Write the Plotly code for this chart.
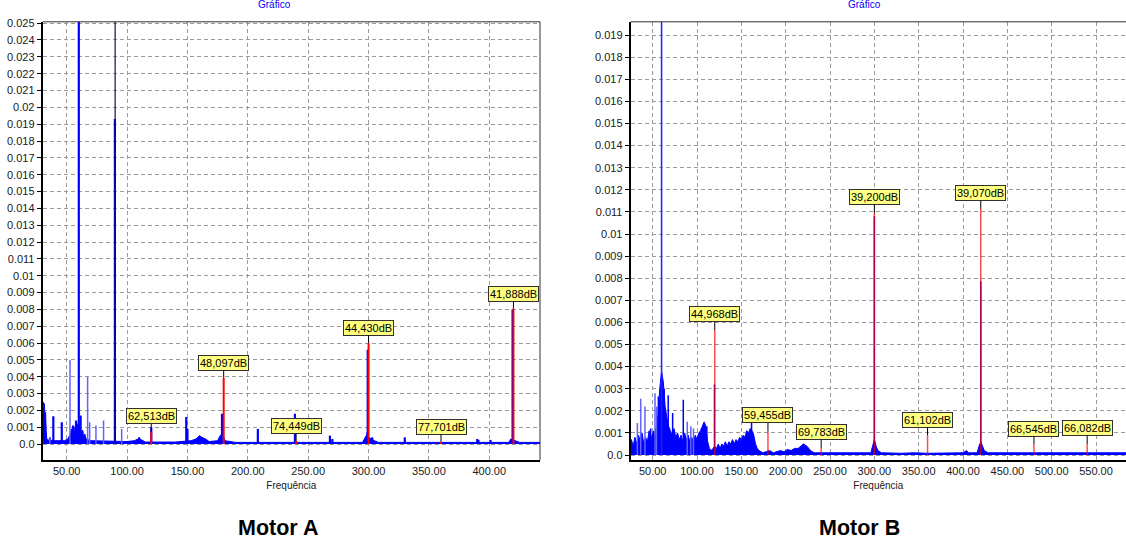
import plotly.graph_objects as go

# ---------------- Motor A ----------------
# broadband floor of the spectrum (Hz, amplitude)
floor_a_freq = [30.1, 30.5, 31.0, 31.5, 32.0, 32.5, 33.0, 33.5, 35.0, 36.0, 37.0, 42.0, 48.0,
                51.0, 53.0, 54.0, 55.0, 56.0, 57.0, 58.0, 59.0, 61.0, 62.0, 63.0, 64.0, 65.0,
                66.0, 70.0, 85.0, 100.0, 106.0, 109.0, 112.0, 115.0, 140.0, 153.0, 157.0,
                160.0, 162.0, 165.0, 168.0, 175.0, 177.0, 179.0, 181.0, 190.0, 295.0, 298.0,
                300.0, 302.0, 305.0, 308.0, 416.0, 418.0, 422.0, 425.0, 442.0]
floor_a_level = [0.0023, 0.0025, 0.0021, 0.0024, 0.0016, 0.0019, 0.0008, 0.0003, 0.0002, 0.0004,
                 0.0002, 0.0002, 0.0002, 0.0003, 0.0006, 0.0009, 0.0004, 0.0010, 0.0005, 0.0009,
                 0.0012, 0.0011, 0.0006, 0.0008, 0.0004, 0.0006, 0.0003, 0.0002, 0.00018,
                 0.00015, 0.0002, 0.0003, 0.00025, 0.00012, 0.00012, 0.0002, 0.0003, 0.0005,
                 0.0004, 0.0003, 0.00015, 0.0002, 0.0005, 0.0006, 0.0002, 0.0001, 0.0001,
                 0.0005, 0.0004, 0.0003, 0.0002, 0.0001, 0.0001, 0.0003, 0.0002, 0.0001, 0.0001]

# discrete spectral lines
peaks_a_freq = [38.9, 45.9, 55.3, 57.7, 60.0, 61.5, 63.0, 89.9, 110.0, 120.0, 149.0, 150.0,
                178.6, 208.3, 239.0, 268.0, 270.0, 299.0, 299.3, 303.0, 330.0, 390.0, 391.0,
                401.0, 418.0, 419.3]
peaks_a_amp = [0.00165, 0.0013, 0.0011, 0.0014, 0.0300, 0.0017, 0.0008, 0.0193, 0.0004, 0.0010,
               0.0016, 0.0009, 0.0018, 0.0009, 0.0018, 0.0005, 0.0003, 0.0007, 0.0056, 0.0004,
               0.0004, 0.0003, 0.00025, 0.00025, 0.0003, 0.0080]
faint_a_freq = [36.0, 52.7, 67.3, 69.0, 74.2, 80.5, 95.5]
faint_a_amp = [0.0004, 0.0050, 0.0040, 0.0013, 0.0011, 0.0014, 0.0009]
thin_a_freq = [90.1]
thin_a_amp = [0.0300]

# harmonic cursors (Hz, dB)
mark_a_freq = [120, 180, 240, 300, 360, 420]
mark_a_db = [62.513, 48.097, 74.449, 44.430, 77.701, 41.888]

# ---------------- Motor B ----------------
floor_b_freq = [25.2, 26, 28, 30, 32, 34, 36, 38, 40, 42, 44, 46, 48, 50, 52, 54, 56, 58, 60, 62,
                64, 66, 68, 70, 72, 74, 76, 78, 80, 82, 84, 86, 88, 90, 92, 94, 96, 98, 100,
                102, 104, 106, 108, 110, 112, 114, 116, 118, 120, 122, 124, 126, 128, 130, 132,
                134, 136, 138, 140, 142, 144, 146, 148, 150, 152, 154, 156, 158, 160, 162, 164,
                166, 168, 170, 174, 178, 182, 186, 190, 194, 198, 202, 206, 210, 214, 218, 220,
                222, 224, 226, 228, 232, 240, 260, 296, 298, 300, 302, 304, 308, 330, 345, 360,
                400, 404, 406, 416, 418, 420, 422, 424, 428, 480, 540, 584]
floor_b_level = [0.0006, 0.0007, 0.0004, 0.0008, 0.0005, 0.0009, 0.0006, 0.0010, 0.0005, 0.0008,
                 0.0006, 0.0011, 0.0007, 0.0010, 0.0008, 0.0013, 0.0018, 0.0030, 0.0038, 0.0033,
                 0.0022, 0.0017, 0.0013, 0.0011, 0.0009, 0.0012, 0.0008, 0.0010, 0.0007, 0.0009,
                 0.0006, 0.0010, 0.0007, 0.0009, 0.0006, 0.0008, 0.0006, 0.0009, 0.0007, 0.0010,
                 0.0011, 0.0013, 0.0015, 0.0013, 0.0006, 0.0003, 0.0002, 0.0003, 0.0004, 0.0003,
                 0.0005, 0.0003, 0.0005, 0.0004, 0.0006, 0.0004, 0.0006, 0.0005, 0.0007, 0.0005,
                 0.0007, 0.0006, 0.0008, 0.0007, 0.0009, 0.0008, 0.0011, 0.0010, 0.0012, 0.0011,
                 0.0009, 0.0005, 0.0003, 0.0002, 0.0001, 0.00015, 0.0002, 0.0001, 0.00015, 0.0002,
                 0.00015, 0.00025, 0.0002, 0.0003, 0.0003, 0.00045, 0.0005, 0.00045, 0.0004,
                 0.0003, 0.0002, 0.0001, 0.0001, 0.00008, 0.0001, 0.0004, 0.0007, 0.0004, 0.0002,
                 0.0001, 0.00008, 0.0001, 0.00008, 0.0001, 0.0002, 0.0001, 0.0001, 0.0004, 0.0006,
                 0.0004, 0.0002, 0.0001, 0.0001, 0.0001, 0.0001]

peaks_b_freq = [47.7, 50.8, 56.4, 63.0, 67.5, 72.5, 84.5, 105.0, 111.0, 119.7, 161.5, 180.5,
                220.0, 300.0, 420.0]
peaks_b_amp = [0.0012, 0.0011, 0.00265, 0.0030, 0.0027, 0.0019, 0.0025, 0.0012, 0.0013, 0.0032,
               0.0016, 0.0002, 0.0005, 0.0108, 0.00786]
faint_b_freq = [32.7, 36.5, 41.3, 52.6, 54.5, 89.0, 93.0, 96.0]
faint_b_amp = [0.00145, 0.00255, 0.0022, 0.0028, 0.0022, 0.0015, 0.0013, 0.0012]
thin_b_freq = [60.0]
thin_b_amp = [0.0300]

mark_b_freq = [120, 180, 240, 300, 360, 420, 480, 540]
mark_b_db = [44.968, 59.455, 69.783, 39.200, 61.102, 39.070, 66.545, 66.082]

# ---------------- axis ticks ----------------
ytick_a_vals = [i / 1000 for i in range(0, 26)]
ytick_a_text = ["0.0", "0.001", "0.002", "0.003", "0.004", "0.005", "0.006", "0.007", "0.008",
                "0.009", "0.01", "0.011", "0.012", "0.013", "0.014", "0.015", "0.016", "0.017",
                "0.018", "0.019", "0.02", "0.021", "0.022", "0.023", "0.024", "0.025"]
ytick_b_vals = [i / 1000 for i in range(0, 20)]
ytick_b_text = ytick_a_text[:20]
xtick_a_vals = [50, 100, 150, 200, 250, 300, 350, 400]
xtick_a_text = ["50.00", "100.00", "150.00", "200.00", "250.00", "300.00", "350.00", "400.00"]
xtick_b_vals = [50, 100, 150, 200, 250, 300, 350, 400, 450, 500, 550]
xtick_b_text = ["50.00", "100.00", "150.00", "200.00", "250.00", "300.00", "350.00", "400.00",
                "450.00", "500.00", "550.00"]

FONT = "Liberation Sans, Arial, sans-serif"
BLUE = "#0000ff"
FAINT = "#6262ff"


def stems(freqs, amps):
    xs, ys = [], []
    for f, a in zip(freqs, amps):
        xs += [f, f, None]
        ys += [0, a, None]
    return xs, ys


def db_to_amp(db):
    return 10 ** (-db / 20.0)


fig = go.Figure()


def add_panel(xa, ya, floor_f, floor_l, faint_f, faint_a, peak_f, peak_a, thin_f, thin_a,
              thin_color, thin_width, mark_f, mark_db, red, red_width, ay, thick_main):
    fig.add_trace(go.Scatter(x=floor_f, y=floor_l, mode="lines", fill="tozeroy",
                             line=dict(color=BLUE, width=1), fillcolor=BLUE,
                             xaxis=xa, yaxis=ya, hoverinfo="skip"))
    x, y = stems(faint_f, faint_a)
    fig.add_trace(go.Scatter(x=x, y=y, mode="lines", line=dict(color=FAINT, width=1.5),
                             xaxis=xa, yaxis=ya, hoverinfo="skip"))
    x, y = stems(peak_f, peak_a)
    fig.add_trace(go.Scatter(x=x, y=y, mode="lines", line=dict(color=BLUE, width=thick_main),
                             xaxis=xa, yaxis=ya, hoverinfo="skip"))
    x, y = stems(thin_f, thin_a)
    fig.add_trace(go.Scatter(x=x, y=y, mode="lines",
                             line=dict(color=thin_color, width=thin_width),
                             xaxis=xa, yaxis=ya, hoverinfo="skip"))
    amps = [db_to_amp(d) for d in mark_db]
    x, y = stems(mark_f, amps)
    fig.add_trace(go.Scatter(x=x, y=y, mode="lines", line=dict(color=red, width=red_width),
                             xaxis=xa, yaxis=ya, hoverinfo="skip"))
    for f, a, d in zip(mark_f, amps, mark_db):
        fig.add_annotation(x=f, y=a, xref=xa, yref=ya, text=f"{d:.3f}".replace(".", ",") + "dB",
                           showarrow=True, arrowhead=0, arrowwidth=1, arrowcolor="#000000",
                           ax=0, ay=ay, bgcolor="#ffff80", bordercolor="#303030",
                           borderwidth=1, borderpad=1,
                           font=dict(family=FONT, size=11, color="#000000"))


add_panel("x", "y", floor_a_freq, floor_a_level, faint_a_freq, faint_a_amp, peaks_a_freq,
          peaks_a_amp, thin_a_freq, thin_a_amp, "#101050", 1.2, mark_a_freq, mark_a_db,
          "#ff0000", 2, -15, 2.2)
add_panel("x2", "y2", floor_b_freq, floor_b_level, faint_b_freq, faint_b_amp, peaks_b_freq,
          peaks_b_amp, thin_b_freq, thin_b_amp, "#2020ff", 1.5, mark_b_freq, mark_b_db,
          "rgba(255,0,0,0.7)", 1.5, -16, 1.5)

W, H = 1126, 540
dom_a = [42.7 / W, 540 / W]
dom_b = [630.7 / W, 1.0]
dom_y = [1 - 460 / H, 1 - 17 / H]

grid = dict(showgrid=True, gridcolor="#9a9a9a", gridwidth=1, griddash="4px,3px", zeroline=False)
tickfont = dict(family=FONT, size=11, color="#202020")
xtitle = dict(text="Frequência", font=dict(family=FONT, size=10, color="#202020"), standoff=6)

fig.update_layout(
    width=W, height=H, margin=dict(l=0, r=0, t=0, b=0),
    paper_bgcolor="#ffffff", plot_bgcolor="#ffffff", showlegend=False,
    xaxis=dict(domain=dom_a, range=[30.1, 442], tickvals=xtick_a_vals, ticktext=xtick_a_text,
               tickfont=tickfont, showline=True, linewidth=2, linecolor="#000000",
               ticks="", anchor="y", title=xtitle, **grid),
    yaxis=dict(domain=dom_y, range=[-0.00094, 0.02508], tickvals=ytick_a_vals,
               ticktext=ytick_a_text, tickfont=tickfont, showline=True, linewidth=2,
               linecolor="#000000", ticks="outside", ticklen=4, tickcolor="#000000",
               anchor="x", **grid),
    xaxis2=dict(domain=dom_b, range=[25.2, 583.8], tickvals=xtick_b_vals, ticktext=xtick_b_text,
                tickfont=tickfont, showline=True, linewidth=2, linecolor="#000000",
                ticks="", anchor="y2", title=xtitle, **grid),
    yaxis2=dict(domain=dom_y, range=[-0.00022, 0.0196], tickvals=ytick_b_vals,
                ticktext=ytick_b_text, tickfont=tickfont, showline=True, linewidth=2,
                linecolor="#000000", ticks="outside", ticklen=4, tickcolor="#000000",
                anchor="x2", **grid),
)

# thin frame on the top / right of each plot area
fig.add_shape(type="line", xref="paper", yref="paper", x0=dom_a[0], x1=dom_a[1],
              y0=dom_y[1], y1=dom_y[1], line=dict(color="#303030", width=1))
fig.add_shape(type="line", xref="paper", yref="paper", x0=dom_a[1], x1=dom_a[1],
              y0=dom_y[0], y1=dom_y[1], line=dict(color="#303030", width=1))
fig.add_shape(type="line", xref="paper", yref="paper", x0=dom_b[0], x1=dom_b[1],
              y0=dom_y[1], y1=dom_y[1], line=dict(color="#303030", width=1))

# chart headers along the top edge and panel captions
for xc in [274, 864]:
    fig.add_annotation(x=xc / W, y=1 + 1 / H, xref="paper", yref="paper", text="Gráfico",
                       showarrow=False, xanchor="center", yanchor="middle",
                       font=dict(family=FONT, size=10, color="#0000ff"))
for xc, cap in [(278, "Motor A"), (859, "Motor B")]:
    fig.add_annotation(x=xc / W, y=1 - 529 / H, xref="paper", yref="paper",
                       text=f"<b>{cap}</b>", showarrow=False, xanchor="center",
                       yanchor="middle", font=dict(family=FONT, size=21.5, color="#000000"))

fig.write_html("out.html")
